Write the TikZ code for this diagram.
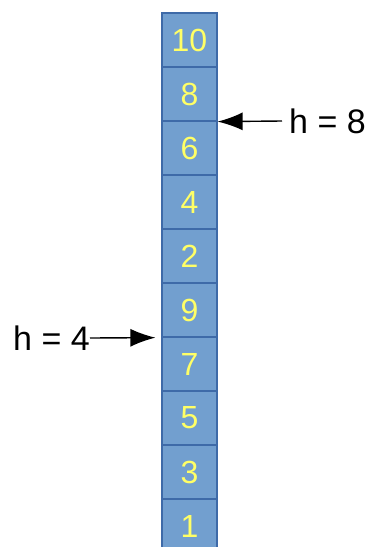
\documentclass[tikz,border=0pt]{standalone}
\usepackage{fontspec}
\setmainfont{Liberation Sans}
\usetikzlibrary{arrows.meta}
\definecolor{cellfill}{RGB}{114,159,207}
\definecolor{celledge}{RGB}{62,106,168}
\definecolor{celltext}{RGB}{255,255,102}
\tikzset{
  cell/.style={draw=celledge, fill=cellfill, line width=1.2pt, minimum width=55pt, minimum height=54pt,
    inner sep=0pt, text=celltext, font=\fontsize{32}{38}\selectfont},
  lbl/.style={inner sep=0pt, font=\fontsize{34}{40}\selectfont},
  ptr/.style={line width=1.4pt, -{Latex[length=25pt,width=18pt]}}
}
\begin{document}
\begin{tikzpicture}[x=1pt,y=-1pt]
\useasboundingbox (0,0) rectangle (372,547);
\clip (0,0) rectangle (372,547);
\foreach \v [count=\i from 0] in {10,8,6,4,2,9,7,5,3,1} {
  \node[cell] (c\v) at (189.5,{40+54*\i}) {\v};
}
\node[lbl, anchor=west] (l8) at (289,121) {h = 8};
\node[lbl, anchor=east] (l4) at (90,338) {h = 4};
\coordinate (s8) at (282,121);
\draw[ptr] (s8) -- (c8.south east);
\draw[ptr, shorten >=6pt] (l4.east) -- (c9.south west);
\end{tikzpicture}
\end{document}
